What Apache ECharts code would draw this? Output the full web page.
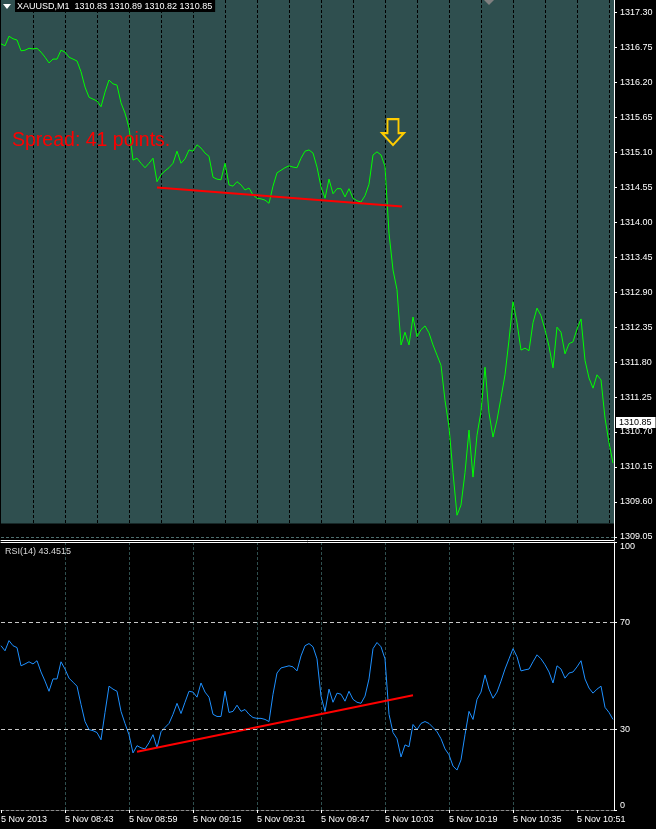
<!DOCTYPE html>
<html>
<head>
<meta charset="utf-8">
<script src="https://cdn.jsdelivr.net/npm/echarts@6/dist/echarts.min.js"></script>
<style>
  html, body { margin: 0; padding: 0; background: #000; }
  #chart { width: 656px; height: 829px; }
</style>
</head>
<body>
<div id="chart"></div>
<script>
// XAUUSD M1, one value per minute from 08:27 to 11:00
var closes = [
  1316.81, 1316.78, 1316.93, 1316.89, 1316.87, 1316.70, 1316.71, 1316.74, 1316.73, 1316.74,
  1316.68, 1316.60, 1316.51, 1316.57, 1316.57, 1316.71, 1316.68, 1316.60, 1316.57, 1316.54,
  1316.37, 1316.13, 1315.97, 1315.94, 1315.91, 1315.82, 1316.05, 1316.24, 1316.18, 1316.16,
  1315.88, 1315.72, 1315.49, 1314.98, 1315.01, 1314.93, 1314.86, 1314.93, 1315.01, 1314.64,
  1314.75, 1314.81, 1314.86, 1314.93, 1315.12, 1314.93, 1315.00, 1315.14, 1315.12, 1315.22,
  1315.17, 1315.09, 1315.04, 1314.71, 1314.68, 1314.67, 1314.93, 1314.59, 1314.57, 1314.64,
  1314.59, 1314.51, 1314.54, 1314.43, 1314.38, 1314.37, 1314.35, 1314.30, 1314.57, 1314.78,
  1314.82, 1314.86, 1314.89, 1314.87, 1314.86, 1315.01, 1315.12, 1315.14, 1315.09, 1314.87,
  1314.56, 1314.38, 1314.68, 1314.45, 1314.53, 1314.53, 1314.40, 1314.53, 1314.38, 1314.34,
  1314.32, 1314.42, 1314.60, 1315.06, 1315.11, 1315.06, 1314.88, 1313.83, 1313.25, 1312.94,
  1312.07, 1312.27, 1312.07, 1312.51, 1312.20, 1312.31, 1312.37, 1312.26, 1312.07, 1311.91,
  1311.75, 1311.20, 1310.78, 1310.06, 1309.39, 1309.55, 1310.06, 1310.73, 1309.99, 1310.65,
  1311.02, 1311.72, 1311.00, 1310.62, 1310.89, 1311.24, 1311.60, 1312.15, 1312.75, 1312.42,
  1311.99, 1312.02, 1311.98, 1312.42, 1312.65, 1312.53, 1312.31, 1312.05, 1311.71, 1312.35,
  1312.27, 1311.93, 1312.09, 1312.12, 1312.32, 1312.48, 1311.83, 1311.55, 1311.39, 1311.60,
  1311.52, 1310.92, 1310.53, 1310.21
]

var rsi = [
  61.3, 59.4, 63.2, 61.3, 60.6, 53.8, 54.5, 55.3, 54.5, 55.7,
  51.5, 48.1, 44.3, 48.9, 48.9, 55.3, 52.6, 49.2, 47.7, 46.2,
  39.4, 33.0, 30.0, 29.6, 28.9, 26.2, 36.4, 46.2, 45.1, 44.3,
  36.8, 32.3, 28.1, 21.3, 24.0, 23.2, 22.8, 25.1, 28.1, 23.2,
  29.2, 30.8, 32.3, 35.7, 39.8, 36.0, 40.2, 44.3, 44.0, 42.1,
  47.4, 44.0, 42.1, 35.7, 34.9, 34.9, 44.3, 36.4, 36.8, 39.1,
  36.8, 37.5, 35.7, 34.5, 34.2, 34.2, 33.8, 33.0, 43.2, 51.1,
  53.0, 53.4, 53.8, 53.4, 51.9, 57.5, 61.3, 62.1, 60.9, 56.4,
  42.5, 36.8, 45.1, 40.2, 43.6, 43.2, 40.6, 44.3, 41.3, 40.2,
  39.8, 42.5, 48.9, 60.2, 62.5, 60.9, 56.4, 35.7, 28.9, 26.6,
  19.8, 24.3, 23.6, 31.9, 30.0, 32.3, 33.0, 32.3, 30.8, 29.2,
  26.6, 22.8, 20.6, 16.4, 14.9, 18.7, 28.1, 36.8, 33.8, 41.3,
  44.0, 50.4, 45.1, 41.7, 44.0, 48.1, 52.6, 56.4, 60.2, 57.2,
  51.9, 52.3, 52.6, 55.3, 57.9, 56.4, 54.2, 51.5, 47.4, 53.8,
  52.6, 49.2, 51.1, 51.5, 53.4, 55.7, 48.9, 45.5, 43.6, 45.1,
  46.2, 38.3, 36.4, 33.8
]

// trend lines drawn on the chart: [minute index, value]
var priceTrend = [[39, 1314.55], [100.25, 1314.25]]
var rsiTrend = [[34, 21.7], [103, 42.8]]

var timeIdx = [0, 16, 32, 48, 64, 80, 96, 112, 128, 144]
var timeLabels = ['5 Nov 2013', '5 Nov 08:43', '5 Nov 08:59', '5 Nov 09:15', '5 Nov 09:31',
  '5 Nov 09:47', '5 Nov 10:03', '5 Nov 10:19', '5 Nov 10:35', '5 Nov 10:51']

var priceTicks = [1309.05, 1309.60, 1310.15, 1310.70, 1311.25, 1311.80, 1312.35, 1312.90,
  1313.45, 1314.00, 1314.55, 1315.10, 1315.65, 1316.20, 1316.75, 1317.30]
var rsiTicks = [0, 30, 70, 100]
var rsiLevels = [30, 70]

var bidPrice = 1310.85
var arrowAt = [98, 1315.42]
var bgBottom = 1309.26
var pMin = 1309.0
var pMax = 1317.5
var xMax = 153.25

var header = 'XAUUSD,M1  1310.83 1310.89 1310.82 1310.85'
var spreadText = 'Spread: 41 points.'
var rsiTitle = 'RSI(14) 43.4515'

var FONT = 'Liberation Sans'
var dash = [3, 2]

function pts (arr) {
  return arr.map(function (v, i) { return [i, v] })
}

var chart = echarts.init(document.getElementById('chart'))

var option = {
  backgroundColor: '#000',
  animation: false,
  textStyle: { fontFamily: FONT },
  grid: [
    { left: 1, top: 0, width: 613, height: 540, containLabel: false, outerBoundsMode: 'none' },
    { left: 1, top: 542, width: 613, height: 268, containLabel: false, outerBoundsMode: 'none' }
  ],
  xAxis: [
    {
      gridIndex: 0, type: 'value', min: 0, max: xMax, interval: 8, z: 2,
      axisLine: { show: true, onZero: false, lineStyle: { color: '#fff', width: 1 } },
      axisTick: { show: false },
      axisLabel: { show: false },
      splitLine: { show: true, showMinLine: false, showMaxLine: false, lineStyle: { color: '#000', type: dash } }
    },
    {
      gridIndex: 1, type: 'value', min: 0, max: xMax, interval: 8,
      axisLine: { show: true, onZero: false, lineStyle: { color: '#8c8c8c', type: dash } },
      axisTick: { show: true, customValues: timeIdx, length: 3, lineStyle: { color: '#fff' } },
      axisLabel: {
        show: true, customValues: timeIdx, color: '#fff', fontSize: 9, fontFamily: FONT,
        align: 'left', margin: 5,
        formatter: function (v) {
          var k = timeIdx.indexOf(Math.round(v))
          return k >= 0 ? timeLabels[k] : ''
        }
      },
      splitLine: { show: true, showMinLine: false, showMaxLine: false, lineStyle: { color: '#2f4f4f', type: dash } }
    },
    {
      gridIndex: 1, type: 'value', position: 'top', min: 0, max: xMax,
      axisLine: { show: true, onZero: false, lineStyle: { color: '#fff' } },
      axisTick: { show: false }, axisLabel: { show: false }, splitLine: { show: false }
    }
  ],
  yAxis: [
    {
      gridIndex: 0, type: 'value', position: 'right', min: pMin, max: pMax,
      axisLine: { show: true, onZero: false, lineStyle: { color: '#fff' } },
      axisTick: { show: true, customValues: priceTicks, length: 3, lineStyle: { color: '#fff' } },
      axisLabel: {
        customValues: priceTicks, color: '#fff', fontSize: 9, fontFamily: FONT, margin: 6,
        formatter: function (v) { return v.toFixed(2) }
      },
      splitLine: { show: false }
    },
    {
      gridIndex: 1, type: 'value', position: 'right', min: 0, max: 100,
      axisLine: { show: true, onZero: false, lineStyle: { color: '#fff' } },
      axisTick: { show: true, customValues: rsiTicks, length: 3, lineStyle: { color: '#fff' } },
      axisLabel: {
        customValues: rsiTicks, color: '#fff', fontSize: 9, fontFamily: FONT, margin: 6,
        verticalAlignMinLabel: 'bottom', verticalAlignMaxLabel: 'top'
      },
      splitLine: { show: false }
    }
  ],
  series: [
    {
      name: 'XAUUSD', type: 'line', xAxisIndex: 0, yAxisIndex: 0, z: 3,
      data: pts(closes), symbol: 'none',
      lineStyle: { color: '#00ff00', width: 1 },
      markArea: {
        silent: true,
        itemStyle: { color: '#2f4f4f' },
        data: [[{ xAxis: 0, yAxis: bgBottom }, { xAxis: xMax, yAxis: pMax }]]
      },
      markLine: {
        silent: true, symbol: 'none',
        data: [
          { yAxis: priceTicks[0], lineStyle: { color: '#4f6f6f', type: dash, width: 1 }, label: { show: false } }
        ]
      },
      markPoint: {
        silent: true,
        symbol: 'path://M5.5,0 L16.5,0 L16.5,14 L22,14 L11,26 L0,14 L5.5,14 Z',
        symbolSize: [22, 26],
        symbolKeepAspect: false,
        itemStyle: { color: '#2f4f4f', borderColor: '#ffcc00', borderWidth: 2 },
        label: { show: false },
        data: [{ coord: arrowAt }]
      }
    },
    {
      // bid level, only its price tag on the axis is visible
      name: 'bid', type: 'line', xAxisIndex: 0, yAxisIndex: 0, z: 6,
      data: [], symbol: 'none',
      markLine: {
        silent: true, symbol: 'none',
        lineStyle: { color: 'rgba(0,0,0,0)', width: 1 },
        label: {
          show: true, position: 'end', distance: 2, formatter: bidPrice.toFixed(2),
          color: '#000', backgroundColor: '#fff', padding: [1, 4, 1, 3], fontSize: 9, fontFamily: FONT
        },
        data: [{ yAxis: bidPrice }]
      }
    },
    {
      name: 'price trend', type: 'line', xAxisIndex: 0, yAxisIndex: 0, z: 4,
      data: priceTrend, symbol: 'none',
      lineStyle: { color: '#ff0000', width: 2 }
    },
    {
      name: 'RSI(14)', type: 'line', xAxisIndex: 1, yAxisIndex: 1, z: 3,
      data: pts(rsi), symbol: 'none',
      lineStyle: { color: '#1e90ff', width: 1 },
      markLine: {
        silent: true, symbol: 'none',
        lineStyle: { color: '#c8c8c8', type: [4, 3], width: 1 },
        label: { show: false },
        data: rsiLevels.map(function (v) { return { yAxis: v } })
      }
    },
    {
      name: 'rsi trend', type: 'line', xAxisIndex: 1, yAxisIndex: 1, z: 4,
      data: rsiTrend, symbol: 'none',
      lineStyle: { color: '#ff0000', width: 2 }
    }
  ],
  graphic: [
    { type: 'polygon', z: 100, shape: { points: [[3, 4], [11, 4], [7, 9]] }, style: { fill: '#fff' } },
    {
      type: 'text', z: 100, left: 15, top: 0,
      style: { text: header, fill: '#fff', font: '9px ' + FONT, backgroundColor: '#000', padding: [2, 3, 1, 2] }
    },
    { type: 'polygon', z: 100, shape: { points: [[484, 0], [494, 0], [489, 5]] }, style: { fill: '#808080' } },
    {
      type: 'text', z: 100, left: 12, top: 131,
      style: { text: spreadText, fill: '#ff0000', font: '19.5px ' + FONT }
    },
    {
      type: 'text', z: 100, left: 5, top: 547,
      style: { text: rsiTitle, fill: '#d8d8d8', font: '9px ' + FONT }
    }
  ]
}

chart.setOption(option)
</script>
</body>
</html>
